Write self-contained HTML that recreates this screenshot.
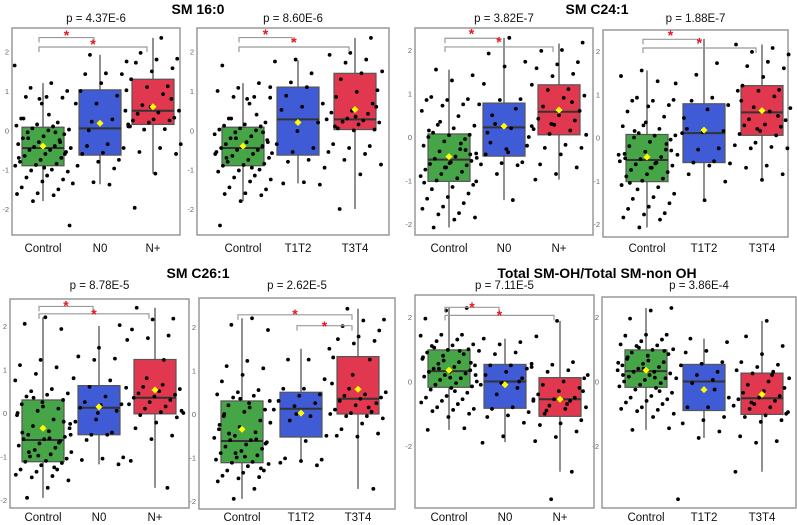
<!DOCTYPE html>
<html><head><meta charset="utf-8"><style>
html,body{margin:0;padding:0;background:#fff;}
svg{display:block;font-family:"Liberation Sans",sans-serif;}
</style></head><body>
<svg id="fig" width="797" height="525" viewBox="0 0 797 525" xmlns="http://www.w3.org/2000/svg">
<text x="198" y="14" text-anchor="middle" font-size="14" font-weight="bold">SM 16:0</text>
<text x="597" y="14" text-anchor="middle" font-size="14" font-weight="bold">SM C24:1</text>
<text x="198" y="278" text-anchor="middle" font-size="14" font-weight="bold">SM C26:1</text>
<text x="597" y="278" text-anchor="middle" font-size="14" font-weight="bold">Total SM-OH/Total SM-non OH</text>
</svg>
<script>
// ---- data ----
const catsN = ["Control","N0","N+"];
const catsT = ["Control","T1T2","T3T4"];
const pvals = ["p = 4.37E-6","p = 8.60E-6","p = 3.82E-7","p = 1.88E-7","p = 8.78E-5","p = 2.62E-5","p = 7.11E-5","p = 3.86E-4"];
const q1s   = [[-0.9,-0.63,0.15],[-0.9,-0.63,0.02],[-1.02,-0.44,0.05],[-1.02,-0.58,0.05],[-1.12,-0.5,-0.02],[-1.12,-0.53,0],[-0.18,-0.83,-1.08],[-0.18,-0.9,-1.02]];
const meds  = [[-0.45,0.05,0.5],[-0.45,0.28,0.28],[-0.52,0.22,0.58],[-0.52,0.1,0.58],[-0.62,0.12,0.35],[-0.62,0.12,0.35],[0.32,0,-0.55],[0.32,0,-0.52]];
const q3s   = [[0.08,1.03,1.3],[0.08,1.1,1.45],[0.07,0.78,1.2],[0.07,0.78,1.2],[0.3,0.63,1.23],[0.3,0.5,1.32],[0.98,0.53,0.12],[0.98,0.53,0.26]];
const wlos  = [[-1.8,-1.37,-1.1],[-1.8,-1.35,-2.0],[-2.08,-1.45,-0.98],[-2.08,-1.45,-1.0],[-1.95,-1.18,-1.72],[-1.95,-1.12,-1.72],[-1.5,-1.88,-2.8],[-1.5,-1.75,-2.8]];
const whis  = [[1.2,1.92,2.35],[1.2,1.78,2.35],[1.55,2.28,2.15],[1.55,2.28,2.15],[2.2,2.0,2.42],[2.2,1.5,2.42],[2.28,1.33,1.88],[2.28,1.33,1.88]];
const means = [[-0.4,0.18,0.6],[-0.4,0.2,0.53],[-0.45,0.25,0.62],[-0.45,0.17,0.62],[-0.35,0.14,0.53],[-0.35,0.02,0.57],[0.35,-0.1,-0.55],[0.35,-0.25,-0.4]];
const brackets = [
 [[0,1,2.36,2.47],[0,2,2.12,2.25]],
 [[0,1,2.36,2.5],[0,2,2.12,2.3]],
 [[0,1,2.27,2.42],[0,2,2.07,2.24]],
 [[0,1,2.27,2.42],[0,2,2.07,2.24]],
 [[0,1,2.45,2.52],[0,2,2.28,2.32]],
 [[0,2,2.28,2.35],[1,2,2.03,2.07]],
 [[0,1,2.3,2.37],[0,2,2.05,2.12]],
 []
];
const ctrl1 = [1.65,1.2,1.08,1.0,0.85,0.85,0.83,0.68,0.3,0.2,0.15,0.12,0.1,0.05,0.02,0,-0.05,-0.1,-0.15,-0.2,-0.25,-0.3,-0.35,-0.4,-0.42,-0.45,-0.5,-0.5,-0.55,-0.6,-0.65,-0.7,-0.75,-0.8,-0.85,-0.88,-0.9,-1.0,-1.02,-1.05,-1.15,-1.2,-1.25,-1.3,-1.45,-1.5,-1.6,-1.62,-1.65,-1.8,-2.42,0.4,-0.2,-0.6,-0.95,0.3,-0.3,0.8,-0.7,-0.05];
const n0_1 = [1.92,1.75,1.45,1.43,1.43,1.2,1.0,0.88,0.68,0.68,0.28,0.22,0.1,-0.35,-0.4,-0.45,-0.57,-0.6,-0.75,-0.8,-0.9,-0.97,-1.32,-1.35,-1.38,0.0,0.5];
const np_1 = [2.35,1.97,1.82,1.8,1.72,1.58,1.5,1.3,1.12,1.1,1.02,0.92,0.64,0.5,0.45,0.42,0.32,0.28,0.25,0.25,0.2,0.15,0.03,0.02,-0.35,-0.45,-0.55,-0.6,-1.1,-1.97,0.8,0.6,0.1];
const t12_1 = [1.8,1.75,1.45,1.22,1.1,1.1,0.88,0.68,0.6,0.52,0.2,-0.02,-0.35,-0.45,-0.55,-0.58,-0.75,-0.8,-0.95,-1.32,-1.35,-1.38];
const t34_1 = [2.35,1.97,1.92,1.8,1.72,1.5,1.45,1.3,1.02,0.98,0.85,0.68,0.5,0.45,0.42,0.3,0.28,0.25,0.22,0.2,0.15,0.05,0.02,0.0,-0.35,-0.4,-0.45,-0.55,-0.6,-0.75,-0.87,-1.12,-2.0,0.6,0.35,0.1];
const ctrl3 = [1.55,1.42,1.3,0.92,0.87,0.85,0.85,0.75,0.72,0.6,0.48,0.28,0.26,0.2,0.1,0.05,0.04,0.0,-0.05,-0.1,-0.2,-0.28,-0.33,-0.38,-0.45,-0.5,-0.55,-0.58,-0.62,-0.65,-0.7,-0.75,-0.8,-0.85,-0.9,-0.95,-1.0,-1.1,-1.15,-1.2,-1.3,-1.38,-1.42,-1.52,-1.6,-1.65,-1.75,-1.78,-1.85,-1.9,-2.08,-0.4,-0.6,0.15,-0.3,-0.7,-1.05,-0.15,0.35,-0.48];
const n0_3 = [2.28,1.92,1.73,1.62,1.22,0.87,0.85,0.75,0.65,0.3,0.25,0.2,-0.13,-0.2,-0.28,-0.4,-0.58,-0.6,-0.63,-0.65,-0.85,-1.02,-1.45,0.5,0.0,-0.35,0.1];
const np_3 = [2.17,2.0,1.98,1.72,1.67,1.58,1.45,1.4,1.2,1.1,1.08,0.95,0.9,0.7,0.6,0.5,0.42,0.38,0.28,0.18,0.15,0.07,0.05,-0.18,-0.25,-0.25,-0.4,-0.63,-0.7,-0.85,-0.98,0.8,0.3];
const t12_3 = [1.72,1.45,1.25,0.92,0.85,0.75,0.65,0.2,0.15,0.12,0.1,-0.25,-0.28,-0.4,-0.55,-0.58,-0.6,-0.65,-0.85,-1.02,-1.45,0.45];
const t34_3 = [2.15,2.07,1.98,1.92,1.75,1.65,1.6,1.4,1.2,1.1,1.08,1.08,0.95,0.7,0.68,0.6,0.42,0.4,0.3,0.28,0.25,0.15,0.08,0.05,-0.12,-0.18,-0.22,-0.25,-0.25,-0.65,-0.7,-0.85,-0.98,0.85,0.5,0.2];
const ctrl5 = [2.2,2.05,1.93,1.22,1.1,1.05,0.9,0.75,0.55,0.5,0.45,0.42,0.38,0.3,0.25,0.2,0.1,0.05,-0.05,-0.15,-0.3,-0.35,-0.42,-0.5,-0.55,-0.6,-0.6,-0.65,-0.7,-0.75,-0.8,-0.85,-0.9,-0.95,-1.0,-1.05,-1.1,-1.12,-1.15,-1.2,-1.3,-1.3,-1.35,-1.42,-1.45,-1.48,-1.55,-1.72,-1.95,-0.2,0.15,-0.45,-0.68,-0.98,0.0,-1.25,0.35,-0.25,-0.58,-0.9];
const n0_5 = [2.02,1.5,1.3,1.25,1.22,0.8,0.75,0.6,0.58,0.38,0.25,0.2,0.18,0.12,0.05,-0.15,-0.2,-0.45,-0.5,-0.5,-0.5,-0.62,-1.02,-1.05,-1.08,-1.18,0.0];
const np_5 = [2.42,2.17,2.15,1.92,1.78,1.72,1.68,1.22,0.6,0.55,0.5,0.45,0.42,0.38,0.35,0.3,0.25,0.2,0.15,0.1,0.05,0.02,-0.05,-0.1,-0.22,-0.35,-0.52,-0.6,-1.1,-1.72,0.8,0.0,0.65];
const t12_5 = [1.5,1.25,1.25,0.8,0.58,0.58,0.45,0.42,0.3,0.25,0.18,0.1,-0.05,-0.15,-0.5,-0.62,-1.02,-1.05,-1.08,-1.12,-1.18,0.0];
const t34_5 = [2.42,2.17,2.15,2.02,1.92,1.78,1.72,1.68,1.62,1.3,1.25,0.58,0.5,0.45,0.42,0.38,0.35,0.3,0.25,0.2,0.1,0.05,0.02,0.0,-0.05,-0.05,-0.1,-0.22,-0.35,-0.45,-0.52,-0.5,-1.72,0.9,0.7,0.15];
const ctrl7 = [2.28,2.2,1.95,1.45,1.45,1.42,1.3,1.25,1.15,1.12,1.1,1.0,0.98,0.9,0.85,0.8,0.7,0.6,0.55,0.5,0.45,0.4,0.35,0.3,0.3,0.25,0.2,0.15,0.1,0.05,0.0,-0.05,-0.1,-0.15,-0.2,-0.25,-0.35,-0.45,-0.5,-0.55,-0.6,-0.65,-0.7,-0.8,-0.85,-0.88,-0.92,-1.0,-1.1,-1.5,-1.45,0.65,0.75,0.95,0.4,0.2,-0.3,1.05,0.58,0.12];
const n0_7 = [1.33,1.22,1.15,0.95,0.9,0.85,0.55,0.5,0.5,0.4,0.3,0.2,0.1,-0.05,-0.1,-0.2,-0.4,-0.6,-0.8,-0.85,-0.95,-1.05,-1.1,-1.28,-1.7,-1.9,0.0];
const np_7 = [1.88,1.4,0.6,0.52,0.45,0.35,0.3,0.1,0.0,-0.1,-0.2,-0.3,-0.4,-0.5,-0.55,-0.55,-0.6,-0.75,-0.8,-0.85,-1.0,-1.2,-1.3,-1.35,-1.55,-1.72,-1.85,-2.8,-3.65,0.2,-0.7,-0.9,-0.3];
const t12_7 = [1.33,1.22,0.95,0.9,0.6,0.55,0.5,0.3,0.2,0.1,0.05,-0.05,-0.5,-0.8,-0.8,-1.1,-1.2,-1.3,-1.55,-1.75,-3.65,-0.25];
const t34_7 = [1.88,1.4,1.1,0.85,0.6,0.52,0.45,0.35,0.3,0.25,0.1,0.0,-0.1,-0.2,-0.3,-0.35,-0.45,-0.5,-0.55,-0.6,-0.7,-0.75,-0.8,-0.85,-1.0,-1.05,-1.1,-1.2,-1.25,-1.7,-1.85,-1.9,-2.8,0.2,-0.65,-0.95];
const points = [[ctrl1,n0_1,np_1],[ctrl1,t12_1,t34_1],[ctrl3,n0_3,np_3],[ctrl3,t12_3,t34_3],[ctrl5,n0_5,np_5],[ctrl5,t12_5,t34_5],[ctrl7,n0_7,np_7],[ctrl7,t12_7,t34_7]];
const ticksA = [-2,-1,0,1,2];
const ticksB = [-2,0,2];

// ---- layout (pixel geometry) ----
const layout = [
 {x0:12,x1:180,y0:28,y1:235,cx:[43,100,153],t2:51.7,tm2:209,labY:252,pY:22,cats:catsN,ticks:ticksA},
 {x0:197,x1:389,y0:28,y1:235,cx:[243,298,355],t2:51.7,tm2:209,labY:252,pY:22,cats:catsT,ticks:ticksA},
 {x0:415,x1:593,y0:28,y1:235,cx:[449,504,559],t2:50,tm2:224,labY:252,pY:22,cats:catsN,ticks:ticksA},
 {x0:603,x1:788,y0:30,y1:237,cx:[647,704,762],t2:51,tm2:224,labY:252,pY:22,cats:catsT,ticks:ticksA},
 {x0:10,x1:189,y0:299,y1:508,cx:[43,99,155],t2:326,tm2:500,labY:521,pY:289,cats:catsN,ticks:ticksA},
 {x0:199,x1:395,y0:298,y1:509,cx:[242,301,358],t2:327,tm2:501,labY:521,pY:289,cats:catsT,ticks:ticksA},
 {x0:415,x1:594,y0:295,y1:508,cx:[449,505,560],t2:317,tm2:446,labY:521,pY:289,cats:catsN,ticks:ticksB},
 {x0:602,x1:796,y0:297,y1:508,cx:[646,704,762],t2:317,tm2:446,labY:521,pY:289,cats:catsT,ticks:ticksB}
];
const fills = ["#46a546","#3f5bd6","#e2384f"];
const NS = "http://www.w3.org/2000/svg";
const svg = document.getElementById('fig');
function mk(tag, attrs, parent){
  const e = document.createElementNS(NS, tag);
  for (const k in attrs) e.setAttribute(k, attrs[k]);
  (parent||svg).appendChild(e);
  return e;
}
layout.forEach((L, p) => {
  const g = mk('g', {});
  
  
  const yS = v => L.t2 + (2 - v) * (L.tm2 - L.t2) / 4;
  const bw = 42;
  const fr = mk('rect', {x:L.x0, y:L.y0, width:L.x1-L.x0, height:L.y1-L.y0, fill:'#fff', stroke:'#999', 'stroke-width':1.5}, g);
  
  
  const pt = mk('text', {x:(L.x0+L.x1)/2, y:L.pY, 'text-anchor':'middle', 'font-size':11.5, fill:'#111'}, g);
  pt.textContent = pvals[p];
  
  
  L.ticks.forEach(t => {
    const tt = mk('text', {x:L.x0-3, y:yS(t)+3, 'text-anchor':'end', 'font-size':7.5, fill:'#666'}, g);
    tt.textContent = t;
    
    
  });
  L.cats.forEach((c, i) => {
    const cx = L.cx[i];
    mk('line', {x1:cx, x2:cx, y1:yS(whis[p][i]), y2:yS(wlos[p][i]), stroke:'#555', 'stroke-width':1.3}, g);
    const box = mk('rect', {x:cx-bw/2, y:yS(q3s[p][i]), width:bw, height:yS(q1s[p][i])-yS(q3s[p][i]), fill:fills[i], stroke:'#555', 'stroke-width':1.2}, g);
    
    
    mk('line', {x1:cx-bw/2, x2:cx+bw/2, y1:yS(meds[p][i]), y2:yS(meds[p][i]), stroke:'#333', 'stroke-width':2}, g);
    const vals = points[p][i];
    vals.forEach((v, j) => {
      const off = (((j*7919 + i*31 + p*13) % 97) / 96 - 0.5) * bw * 1.35;
      const d = mk('circle', {cx:cx+off, cy:yS(v), r:1.9, fill:'#000'}, g);
      
      
    });
    const my = yS(means[p][i]);
    const mn = mk('polygon', {points:`${cx},${my-3.5} ${cx+3.5},${my} ${cx},${my+3.5} ${cx-3.5},${my}`, fill:'#ffff00'}, g);
    
    
    const lb = mk('text', {x:cx, y:L.labY, 'text-anchor':'middle', 'font-size':11.5, fill:'#111'}, g);
    lb.textContent = c;
    
    
  });
  brackets[p].forEach(b => {
    const xa = L.cx[b[0]] - 4, xb = L.cx[b[1]] - 6, y = yS(b[2]);
    const br = mk('path', {d:`M${xa},${y+5} V${y} H${xb} V${y+5}`, fill:'none', stroke:'#999', 'stroke-width':1.2}, g);
    
    
    const st = mk('text', {x:(xa+xb)/2, y:yS(b[3])+7, 'text-anchor':'middle', 'font-size':14, 'font-weight':'bold', fill:'#e8141e'}, g);
    st.textContent = '*';
    
    
  });
});
</script>
</body></html>
